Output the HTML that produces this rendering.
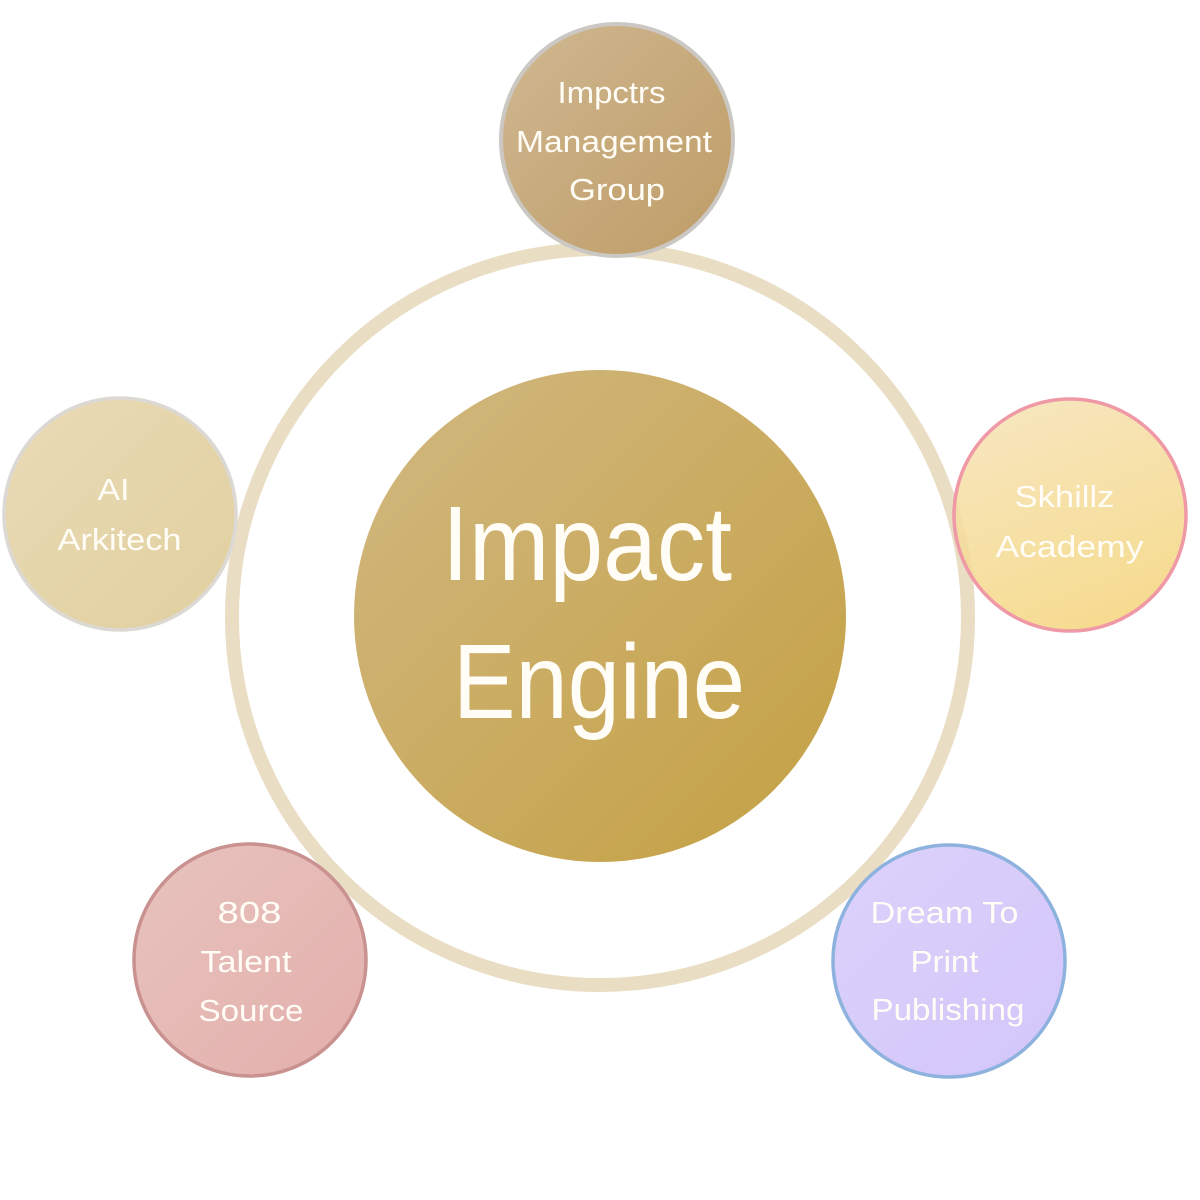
<!DOCTYPE html>
<html>
<head>
<meta charset="utf-8">
<style>
html,body{margin:0;padding:0;background:#ffffff;}
svg{display:block;}
text{font-family:"Liberation Sans","DejaVu Sans",sans-serif;fill:#fffdf6;}
</style>
</head>
<body>
<svg width="1200" height="1200" viewBox="0 0 1200 1200" xmlns="http://www.w3.org/2000/svg">
  <defs>
    <linearGradient id="gC" x1="0" y1="0" x2="1" y2="1">
      <stop offset="0" stop-color="#d1b882"/>
      <stop offset="1" stop-color="#c4a042"/>
    </linearGradient>
    <linearGradient id="gT" x1="0" y1="0" x2="1" y2="1">
      <stop offset="0" stop-color="#d0b892"/>
      <stop offset="1" stop-color="#be9c66"/>
    </linearGradient>
    <linearGradient id="gL" x1="0" y1="0" x2="1" y2="1">
      <stop offset="0" stop-color="#e9dbb7"/>
      <stop offset="1" stop-color="#e1cf9e"/>
    </linearGradient>
    <linearGradient id="gR" x1="0.3" y1="0" x2="0.7" y2="1">
      <stop offset="0" stop-color="#f6e2b3"/>
      <stop offset="1" stop-color="#f4d47a"/>
    </linearGradient>
    <linearGradient id="gBL" x1="0" y1="0" x2="1" y2="1">
      <stop offset="0" stop-color="#e8c3be"/>
      <stop offset="1" stop-color="#e3afac"/>
    </linearGradient>
    <linearGradient id="gBR" x1="0" y1="0" x2="1" y2="1">
      <stop offset="0" stop-color="#dcd2fb"/>
      <stop offset="1" stop-color="#d3c5fa"/>
    </linearGradient>
  </defs>

  <!-- big ring -->
  <circle cx="600" cy="617" r="368" fill="none" stroke="#e9ddc4" stroke-width="14"/>

  <!-- central circle -->
  <circle cx="600" cy="616" r="246" fill="url(#gC)"/>
  <text x="442" y="580" font-size="106" textLength="290" lengthAdjust="spacingAndGlyphs">Impact</text>
  <text x="453" y="718" font-size="106" textLength="292" lengthAdjust="spacingAndGlyphs">Engine</text>

  <!-- top -->
  <circle cx="617" cy="140" r="116" fill="url(#gT)" stroke="#cbc8c4" stroke-width="4"/>
  <text x="611.5" y="103" font-size="31" text-anchor="middle" textLength="108" lengthAdjust="spacingAndGlyphs">Impctrs</text>
  <text x="614" y="152" font-size="31" text-anchor="middle" textLength="196" lengthAdjust="spacingAndGlyphs">Management</text>
  <text x="617" y="200" font-size="31" text-anchor="middle" textLength="96" lengthAdjust="spacingAndGlyphs">Group</text>

  <!-- left -->
  <circle cx="120" cy="514" r="116" fill="url(#gL)" stroke="#dcd9d4" stroke-width="3.5"/>
  <text x="113.5" y="500" font-size="31" text-anchor="middle" textLength="32" lengthAdjust="spacingAndGlyphs">AI</text>
  <text x="119.5" y="550" font-size="31" text-anchor="middle" textLength="124" lengthAdjust="spacingAndGlyphs">Arkitech</text>

  <!-- right -->
  <circle cx="1070" cy="515" r="116" fill="url(#gR)" fill-opacity="0.85" stroke="#ef98a6" stroke-width="3.5"/>
  <text x="1064.5" y="507" font-size="31" text-anchor="middle" textLength="100" lengthAdjust="spacingAndGlyphs">Skhillz</text>
  <text x="1069.5" y="557" font-size="31" text-anchor="middle" textLength="148" lengthAdjust="spacingAndGlyphs">Academy</text>

  <!-- bottom-left -->
  <circle cx="250" cy="960" r="116" fill="url(#gBL)" stroke="#c9918f" stroke-width="3.5"/>
  <text x="249.5" y="923" font-size="31" text-anchor="middle" textLength="64" lengthAdjust="spacingAndGlyphs">808</text>
  <text x="246" y="972" font-size="31" text-anchor="middle" textLength="91" lengthAdjust="spacingAndGlyphs">Talent</text>
  <text x="251" y="1021" font-size="31" text-anchor="middle" textLength="105" lengthAdjust="spacingAndGlyphs">Source</text>

  <!-- bottom-right -->
  <circle cx="949" cy="961" r="116" fill="url(#gBR)" stroke="#8db2de" stroke-width="3.5"/>
  <text x="944.5" y="923" font-size="31" text-anchor="middle" textLength="148" lengthAdjust="spacingAndGlyphs">Dream To</text>
  <text x="944.5" y="972" font-size="31" text-anchor="middle" textLength="68" lengthAdjust="spacingAndGlyphs">Print</text>
  <text x="948" y="1020" font-size="31" text-anchor="middle" textLength="153" lengthAdjust="spacingAndGlyphs">Publishing</text>
</svg>
</body>
</html>
